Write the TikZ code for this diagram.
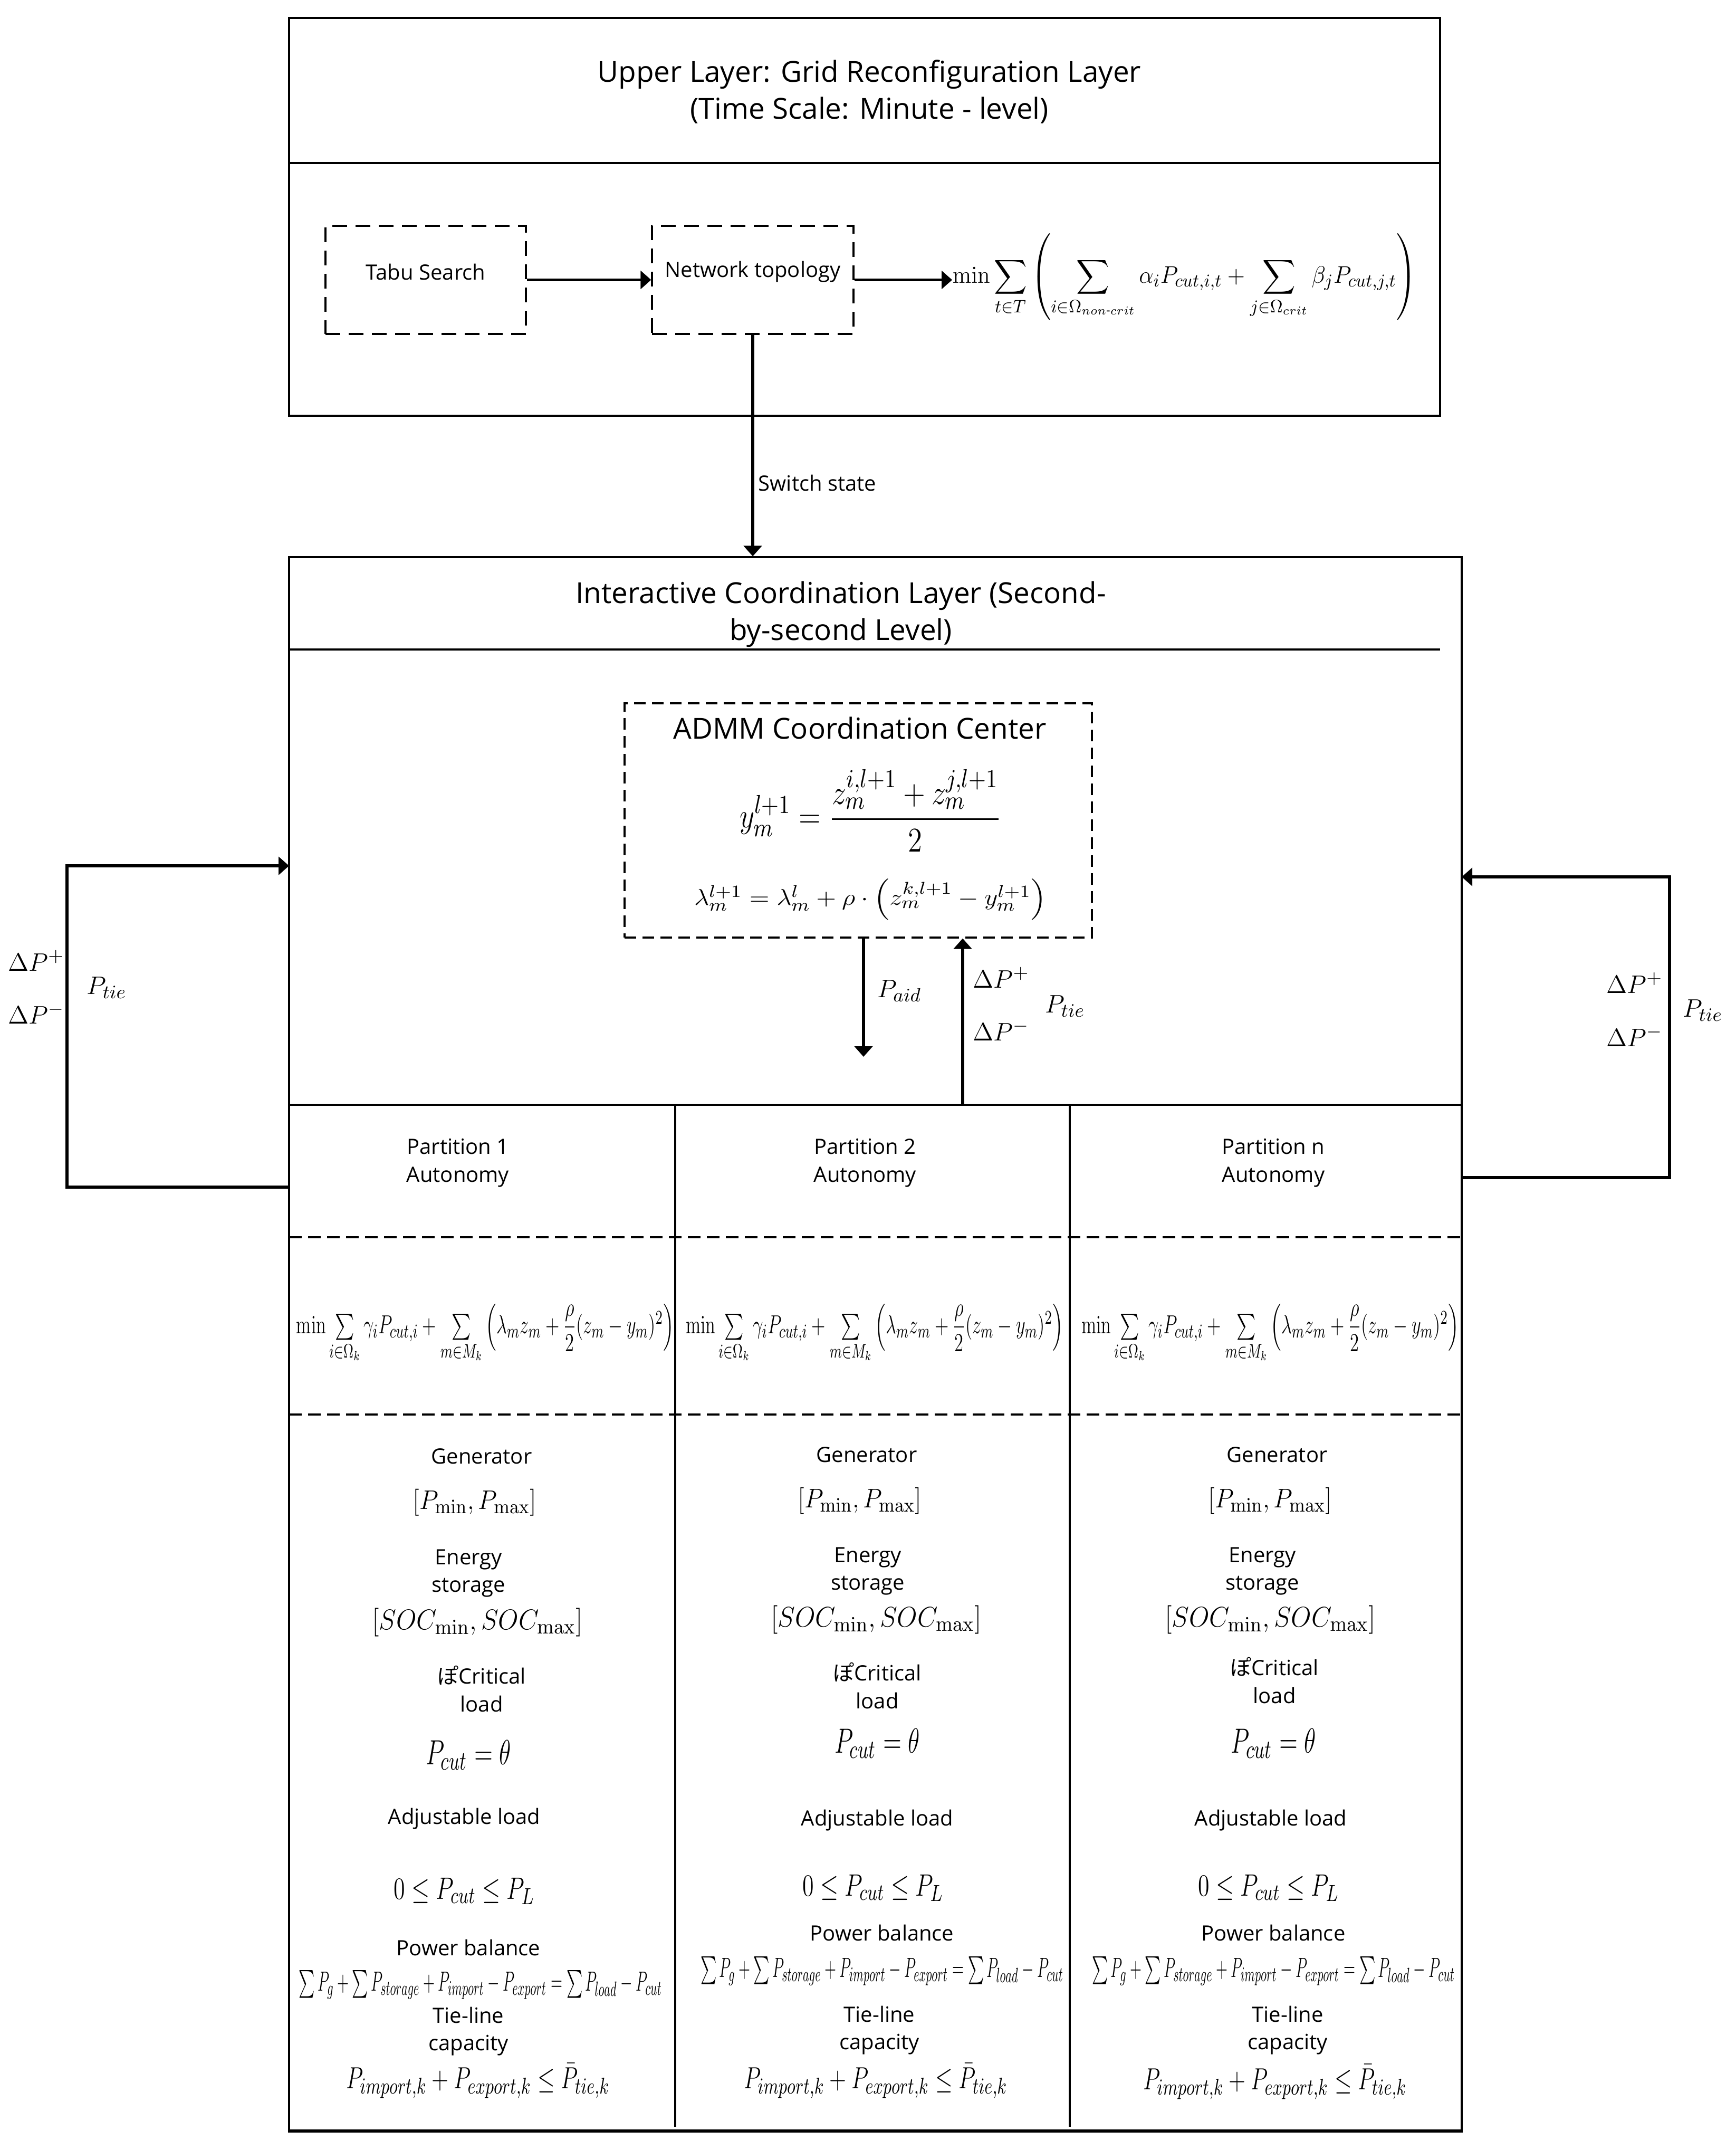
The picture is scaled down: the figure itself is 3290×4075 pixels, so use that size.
\documentclass[tikz,border=0pt]{standalone}
\usepackage{amsmath}
\usepackage[no-math]{fontspec}
\setmainfont{Open Sans}
\newfontfamily\cjkfont{Noto Sans CJK JP}
\usepackage{graphicx}
\usetikzlibrary{fit,arrows.meta}

\newcommand{\ObjTop}{$\displaystyle \min\sum_{t\in T}\left(\sum_{i\in\Omega_{non\text{-}crit}}\alpha_i P_{cut,i,t}+\sum_{j\in\Omega_{crit}}\beta_j P_{cut,j,t}\right)$}
\newcommand{\ObjPart}{$\textstyle \min\sum\limits_{i\in\Omega_k}\gamma_i P_{cut,i}+\sum\limits_{m\in M_k}\left(\lambda_m z_m+\dfrac{\rho}{2}(z_m-y_m)^2\right)$}
\newcommand{\AdmmY}{$\displaystyle y_m^{l+1}=\frac{z_m^{i,l+1}+z_m^{j,l+1}}{2}$}
\newcommand{\AdmmL}{$\lambda_m^{l+1}=\lambda_m^{l}+\rho\cdot\left(z_m^{k,l+1}-y_m^{l+1}\right)$}
\newcommand{\GenR}{$[P_{\min},P_{\max}]$}
\newcommand{\SocR}{$[SOC_{\min},SOC_{\max}]$}
\newcommand{\PcutEq}{$P_{cut}=\theta$}
\newcommand{\AdjR}{$0\le P_{cut}\le P_L$}
\newcommand{\BalEq}{$\sum P_g+\sum P_{storage}+P_{import}-P_{export}=\sum P_{load}-P_{cut}$}
\newcommand{\TieEq}{$P_{import,k}+P_{export,k}\le\bar{P}_{tie,k}$}
\newcommand{\CritTxt}{{\cjkfont ぽ}Critical\\load}

\tikzset{
 layerbox/.style={draw, line width=0.8pt, inner sep=0pt},
 tabubox/.style={draw, line width=0.8pt, dash pattern=on 7pt off 4pt, inner sep=0pt},
 admmbox/.style={draw, line width=0.8pt, dash pattern=on 5.5pt off 3pt, inner sep=0pt},
 pdash/.style={line width=1.1pt, dash pattern=on 6pt off 3pt},
 thinrule/.style={line width=0.8pt},
 arr/.style={line width=1.3pt, -{Triangle[length=5pt,width=8.5pt]}},
 bigtxt/.style={font=\fontsize{13.7}{17.5}\selectfont, align=center, inner sep=0pt},
 smalltxt/.style={font=\fontsize{10}{13.2}\selectfont, align=center, inner sep=0pt},
 mth/.style={font=\fontsize{13}{15}\selectfont, inner sep=0pt},
 lbl/.style={font=\fontsize{12.5}{15}\selectfont, inner sep=0pt},
}

\begin{document}
\begin{tikzpicture}[x=0.25pt,y=-0.25pt]
\useasboundingbox (0,0) rectangle (3290,4075);

% ---------- upper layer ----------
\node[layerbox, fit={(548,34)(2730,309)}] (tophead) {};
\node[layerbox, fit={(548,309)(2730,788)}] (topbody) {};
\node[bigtxt] (toptitle) at (1648,174) {Upper Layer: Grid Reconfiguration Layer\\(Time Scale: Minute - level)};
\node[tabubox, smalltxt, fit={(617,428)(997,633)}] (tabu) {Tabu Search};
\node[tabubox, smalltxt, fit={(1236,428)(1618,633)}] (nt) {Network topology};
\node[mth, anchor=west] (objtop) at (1805,525) {\resizebox*{220pt}{41pt}{\ObjTop}};
\draw[arr] (tabu.east) -- (nt.west);
\draw[arr] (nt.east) -- (nt.east -| objtop.west);

% ---------- interactive layer ----------
\node[layerbox, fit={(548,1056)(2771,4038)}] (mid) {};
\draw[line width=1.2pt] (mid.south west) -- (mid.south east);
\coordinate (hdrEnd) at (2730,1231);
\draw[thinrule] (mid.west |- hdrEnd) -- (hdrEnd);
\node[bigtxt] (midtitle) at (1594,1164) {Interactive Coordination Layer (Second-\\by-second Level)};

\draw[arr] (nt.south) -- (nt.south |- mid.north);
\node[smalltxt, anchor=west] (sw) at (1437,916) {Switch state};

\node[admmbox, fit={(1184,1333)(2070,1777)}] (admm) {};
\node[bigtxt] (admmtitle) at (1630,1380) {ADMM Coordination Center};
\node[mth] (admm1) at (1650,1536) {\resizebox*{124pt}{39pt}{\AdmmY}};
\node[mth] (admm2) at (1650,1705) {\resizebox*{167pt}{19.5pt}{\AdmmL}};

\coordinate (paidEnd) at (1637,2003);
\coordinate (upStart) at (1825,2094);
\draw[arr] (admm.south -| paidEnd) -- (paidEnd);
\draw[arr] (upStart) -- (upStart |- admm.south);
\node[lbl] (paid) at (1705,1878) {$P_{aid}$};
\node[lbl] (dpm1) at (1898,1853) {$\Delta P^{+}$};
\node[lbl] (dmm1) at (1898,1953) {$\Delta P^{-}$};
\node[lbl] (ptm) at (2019,1907) {$P_{tie}$};

% left loop
\coordinate (lout) at (548,2250);
\coordinate (lin) at (548,1641);
\coordinate (lx) at (127,2000);
\draw[arr] (lout) -- (lout -| lx) -- (lin -| lx) -- (lin);
\node[lbl, anchor=east] (dpl) at (123,1821) {$\Delta P^{+}$};
\node[lbl, anchor=east] (dml) at (123,1921) {$\Delta P^{-}$};
\node[lbl] (ptl) at (202,1872) {$P_{tie}$};

% right loop
\coordinate (rout) at (2771,2232);
\coordinate (rin) at (2771,1662);
\coordinate (rx) at (3165,2000);
\draw[arr] (rout) -- (rout -| rx) -- (rin -| rx) -- (rin);
\node[lbl, anchor=east] (dpr) at (3153,1863) {$\Delta P^{+}$};
\node[lbl, anchor=east] (dmr) at (3153,1964) {$\Delta P^{-}$};
\node[lbl] (ptr) at (3228,1915) {$P_{tie}$};

% partitions grid
\coordinate (pTopL) at (548,2094);
\coordinate (pTopR) at (2771,2094);
\draw[thinrule] (pTopL) -- (pTopR);
\draw[thinrule] (1280,2094) -- (1280,4031);
\draw[thinrule] (2028,2094) -- (2028,4031);
\draw[pdash] (548,2345) -- (2771,2345);
\draw[pdash] (548,2681) -- (2771,2681);

% partition 1
\node[smalltxt] (p1head) at (868,2204) {Partition 1\\Autonomy};
\node[mth] (p1obj) at (920,2527) {\resizebox*{179pt}{28pt}{\ObjPart}};
\node[smalltxt] (p1gen) at (913,2760) {Generator};
\node[mth] (p1genr) at (900,2848) {\resizebox*{58.75pt}{12.75pt}{\GenR}};
\node[smalltxt] (p1es) at (888,2982) {Energy\\storage};
\node[mth] (p1soc) at (905,3075) {\resizebox*{100pt}{13.5pt}{\SocR}};
\node[smalltxt] (p1crit) at (913,3201) {\CritTxt};
\node[mth] (p1pcut) at (888,3326) {\resizebox*{40.5pt}{14pt}{\PcutEq}};
\node[smalltxt] (p1adj) at (880,3447) {Adjustable load};
\node[mth] (p1adjr) at (880,3584) {\resizebox*{66.75pt}{12.5pt}{\AdjR}};
\node[smalltxt] (p1pb) at (888,3691) {Power balance};
\node[mth] (p1pbe) at (911,3762) {\resizebox*{172pt}{13.75pt}{\BalEq}};
\node[smalltxt] (p1tie) at (888,3850) {Tie-line\\capacity};
\node[mth] (p1tiee) at (906,3944) {\resizebox*{125pt}{16.5pt}{\TieEq}};

% partition 2
\node[smalltxt] (p2head) at (1640,2204) {Partition 2\\Autonomy};
\node[mth] (p2obj) at (1658,2527) {\resizebox*{179pt}{28pt}{\ObjPart}};
\node[smalltxt] (p2gen) at (1643,2757) {Generator};
\node[mth] (p2genr) at (1630,2845) {\resizebox*{58.75pt}{12.75pt}{\GenR}};
\node[smalltxt] (p2es) at (1645,2978) {Energy\\storage};
\node[mth] (p2soc) at (1661,3070) {\resizebox*{100pt}{13.5pt}{\SocR}};
\node[smalltxt] (p2crit) at (1663,3195) {\CritTxt};
\node[mth] (p2pcut) at (1663,3304) {\resizebox*{40.5pt}{14pt}{\PcutEq}};
\node[smalltxt] (p2adj) at (1663,3450) {Adjustable load};
\node[mth] (p2adjr) at (1655,3578) {\resizebox*{66.75pt}{12.5pt}{\AdjR}};
\node[smalltxt] (p2pb) at (1672,3663) {Power balance};
\node[mth] (p2pbe) at (1672,3736) {\resizebox*{172pt}{13.75pt}{\BalEq}};
\node[smalltxt] (p2tie) at (1667,3848) {Tie-line\\capacity};
\node[mth] (p2tiee) at (1660,3944) {\resizebox*{125pt}{16.5pt}{\TieEq}};

% partition n
\node[smalltxt] (pnhead) at (2414,2204) {Partition n\\Autonomy};
\node[mth] (pnobj) at (2408,2527) {\resizebox*{179pt}{28pt}{\ObjPart}};
\node[smalltxt] (pngen) at (2421,2757) {Generator};
\node[mth] (pngenr) at (2408,2845) {\resizebox*{58.75pt}{12.75pt}{\GenR}};
\node[smalltxt] (pnes) at (2393,2978) {Energy\\storage};
\node[mth] (pnsoc) at (2408,3070) {\resizebox*{100pt}{13.5pt}{\SocR}};
\node[smalltxt] (pncrit) at (2416,3185) {\CritTxt};
\node[mth] (pnpcut) at (2414,3304) {\resizebox*{40.5pt}{14pt}{\PcutEq}};
\node[smalltxt] (pnadj) at (2409,3450) {Adjustable load};
\node[mth] (pnadjr) at (2405,3578) {\resizebox*{66.75pt}{12.5pt}{\AdjR}};
\node[smalltxt] (pnpb) at (2414,3663) {Power balance};
\node[mth] (pnpbe) at (2414,3736) {\resizebox*{172pt}{13.75pt}{\BalEq}};
\node[smalltxt] (pntie) at (2441,3848) {Tie-line\\capacity};
\node[mth] (pntiee) at (2417,3946) {\resizebox*{125pt}{16.5pt}{\TieEq}};

\end{tikzpicture}
\end{document}
